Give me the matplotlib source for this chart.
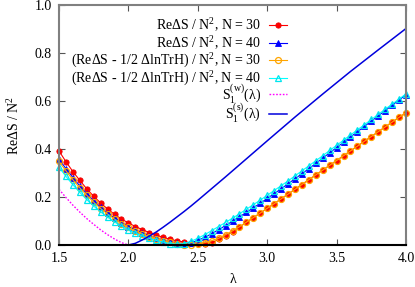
import numpy as np
import matplotlib
matplotlib.use("Agg")
import matplotlib.pyplot as plt

plt.rcParams['font.family'] = ['Liberation Serif', 'DejaVu Serif']
plt.rcParams['mathtext.fontset'] = 'custom'
plt.rcParams['mathtext.rm'] = 'Liberation Serif'
plt.rcParams['mathtext.it'] = 'Liberation Serif:italic'
plt.rcParams['font.size'] = 10

# lambda grid of the finite-N data (step 0.05)
lam = [1.50, 1.55, 1.60, 1.65, 1.70, 1.75, 1.80, 1.85, 1.90, 1.95,
       2.00, 2.05, 2.10, 2.15, 2.20, 2.25, 2.30, 2.35, 2.40, 2.45,
       2.50, 2.55, 2.60, 2.65, 2.70, 2.75, 2.80, 2.85, 2.90, 2.95,
       3.00, 3.05, 3.10, 3.15, 3.20, 3.25, 3.30, 3.35, 3.40, 3.45,
       3.50, 3.55, 3.60, 3.65, 3.70, 3.75, 3.80, 3.85, 3.90, 3.95, 4.00]

re_n30 = [0.392, 0.347, 0.306, 0.269, 0.234, 0.203, 0.175, 0.150, 0.128, 0.108,
          0.092, 0.077, 0.064, 0.052, 0.041, 0.032, 0.024, 0.017, 0.013, 0.009,
          0.006, 0.005, 0.009, 0.023, 0.039, 0.056, 0.075, 0.094, 0.114, 0.133,
          0.153, 0.172, 0.192, 0.212, 0.232, 0.252, 0.272, 0.292, 0.312, 0.332,
          0.352, 0.372, 0.392, 0.412, 0.432, 0.452, 0.472, 0.492, 0.512, 0.532, 0.551]

re_n40 = [0.358, 0.318, 0.281, 0.246, 0.213, 0.184, 0.157, 0.133, 0.112, 0.093,
          0.077, 0.063, 0.050, 0.039, 0.029, 0.021, 0.014, 0.009, 0.005, 0.009,
          0.019, 0.032, 0.047, 0.064, 0.081, 0.099, 0.117, 0.136, 0.155, 0.174,
          0.194, 0.214, 0.234, 0.255, 0.276, 0.297, 0.318, 0.340, 0.362, 0.384,
          0.406, 0.428, 0.450, 0.472, 0.494, 0.516, 0.538, 0.560, 0.582, 0.604, 0.626]

corr_n30 = [0.348, 0.309, 0.272, 0.238, 0.207, 0.178, 0.152, 0.129, 0.108, 0.089,
            0.073, 0.059, 0.046, 0.035, 0.026, 0.018, 0.011, 0.006, 0.002, 0.001,
            0.004, 0.010, 0.018, 0.028, 0.043, 0.059, 0.076, 0.095, 0.114, 0.133,
            0.153, 0.172, 0.192, 0.212, 0.232, 0.252, 0.272, 0.292, 0.312, 0.332,
            0.352, 0.372, 0.392, 0.412, 0.432, 0.452, 0.472, 0.492, 0.512, 0.532, 0.551]

corr_n40 = [0.324, 0.286, 0.251, 0.219, 0.189, 0.162, 0.138, 0.116, 0.096, 0.079,
            0.063, 0.050, 0.038, 0.028, 0.019, 0.012, 0.006, 0.003, 0.006, 0.015,
            0.028, 0.043, 0.060, 0.077, 0.094, 0.112, 0.130, 0.149, 0.168, 0.187,
            0.207, 0.227, 0.247, 0.267, 0.288, 0.309, 0.330, 0.351, 0.372, 0.394,
            0.415, 0.437, 0.458, 0.480, 0.501, 0.523, 0.544, 0.566, 0.587, 0.608, 0.630]

# weak-coupling curve
lam_w = [1.50, 1.55, 1.60, 1.65, 1.70, 1.75, 1.80, 1.85, 1.90, 1.95, 2.00]
s_weak = [0.232, 0.198, 0.166, 0.137, 0.110, 0.086, 0.063, 0.043, 0.025, 0.010, 0.000]

# strong-coupling curve
lam_s = [2.00, 2.05, 2.10, 2.15, 2.20, 2.25, 2.30, 2.35, 2.40, 2.45, 2.50,
         2.60, 2.70, 2.80, 2.90, 3.00, 3.20, 3.40, 3.60, 3.80, 4.00]
s_strong = [0.000, 0.007, 0.021, 0.037, 0.054, 0.074, 0.095, 0.117, 0.139, 0.162, 0.186,
            0.235, 0.284, 0.334, 0.384, 0.434, 0.533, 0.629, 0.723, 0.813, 0.902]

fig = plt.figure(figsize=(4.15, 2.87), dpi=100)
ax = fig.add_axes([59/415, 1-245/287, 347/415, 240/287])

h1, = ax.plot(lam, re_n30, '-', color='#ff0000', lw=0.8, marker='o', ms=3.8,
              mfc='#ff0000', mec='#ee0000', mew=0.6, clip_on=False)
h2, = ax.plot(lam, re_n40, '-', color='#0000ff', lw=0.8, marker='^', ms=4.3,
              mfc='#0000ff', mec='#0000ff', mew=0.6, clip_on=False)
h3, = ax.plot(lam, corr_n30, '-', color='#ffa500', lw=0.8, marker='o', ms=4.3,
              mfc='none', mec='#ffa500', mew=0.9, clip_on=False)
h4, = ax.plot(lam, corr_n40, '-', color='#00ffff', lw=0.8, marker='^', ms=4.6,
              mfc='none', mec='#00e5ee', mew=0.9, clip_on=False)
h5, = ax.plot(lam_w, s_weak, color='#ff00ff', lw=1.0, ls=(0, (1.2, 1.2)))
h6, = ax.plot(lam_s, s_strong, color='#0000dd', lw=1.1)

ax.set_xlim(1.5, 4.0)
ax.set_ylim(0.0, 1.0)
ax.set_xticks([1.5, 2.0, 2.5, 3.0, 3.5, 4.0])
ax.set_yticks([0.0, 0.2, 0.4, 0.6, 0.8, 1.0])
ax.xaxis.set_major_formatter(matplotlib.ticker.FormatStrFormatter('%.1f'))
ax.yaxis.set_major_formatter(matplotlib.ticker.FormatStrFormatter('%.1f'))
ax.tick_params(direction='in', length=4, width=0.8, color='#555555',
               top=True, right=True, pad=5, labelsize=10)
for side in ['left', 'right', 'top']:
    ax.spines[side].set_color('#808080')
    ax.spines[side].set_linewidth(1.5)
ax.spines['bottom'].set_color('black')
ax.spines['bottom'].set_linewidth(1.5)

ax.set_xlabel('λ', labelpad=6)
ax.set_ylabel('ReΔS / N$^2$', labelpad=9)

leg_kw = dict(frameon=False, markerfirst=False, handlelength=1.3,
              handletextpad=0.55, borderpad=0, borderaxespad=0, fontsize=10)
leg1 = ax.legend([h1, h2, h3, h4],
                 ['ReΔS / N$^2$, N = 30', 'ReΔS / N$^2$, N = 40',
                  '(ReΔS - 1/2 ΔlnTrH) / N$^2$, N = 30',
                  '(ReΔS - 1/2 ΔlnTrH) / N$^2$, N = 40'],
                 loc='upper right', bbox_to_anchor=(0.657, 0.952),
                 labelspacing=0.0, **leg_kw)
ax.add_artist(leg1)
ax.legend([h5, h6], [r'S$_{\rm 1}^{\rm (w)}$(λ)', r'S$_{\rm 1}^{\rm (s)}$(λ)'],
          loc='upper right', bbox_to_anchor=(0.657, 0.680),
          labelspacing=-0.2, **leg_kw)

fig.savefig('out.png', dpi=100)
